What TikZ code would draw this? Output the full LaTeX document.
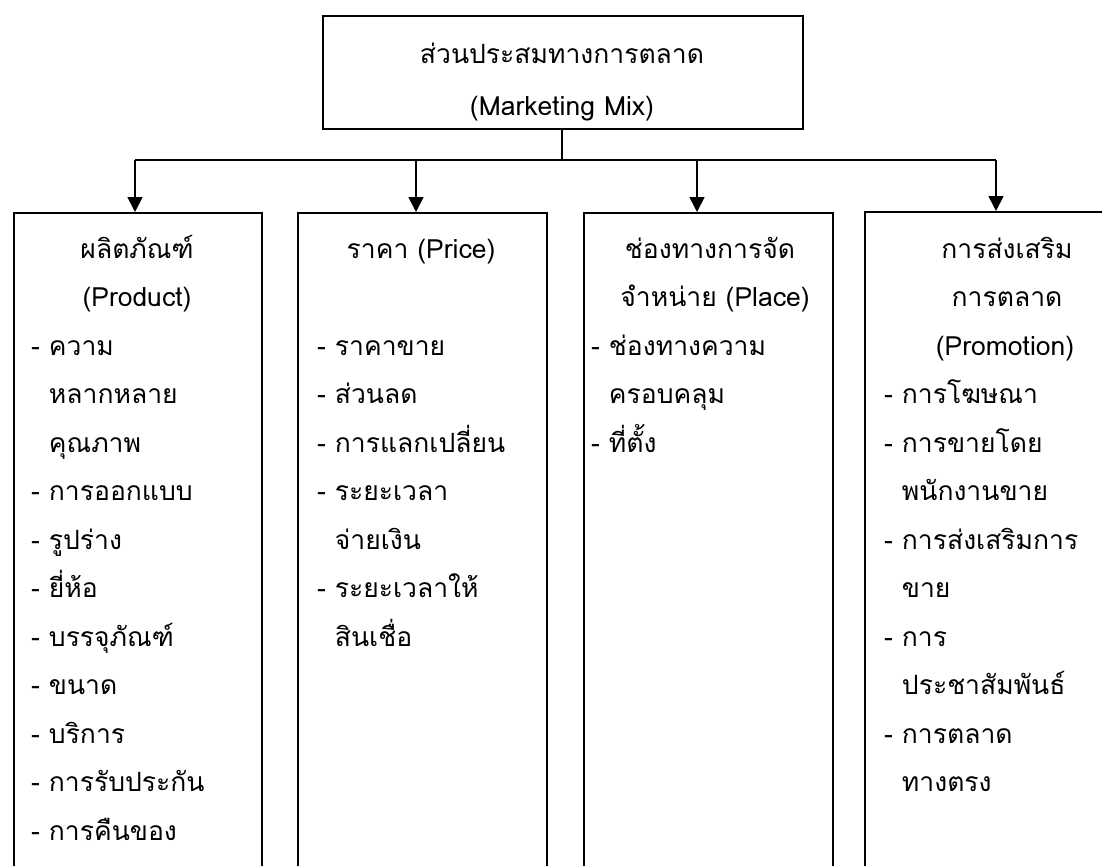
\documentclass[tikz,border=0pt]{standalone}
\usepackage{fontspec}
\setmainfont[Script=Thai]{Loma}
\usetikzlibrary{arrows.meta}
\tikzset{
  frame/.style={draw, line width=1.7pt, inner sep=0pt, anchor=north west},
  conn/.style={line width=1.7pt},
  arr/.style={line width=1.7pt, -{Triangle[width=15pt,length=15pt]}},
  hd/.style={anchor=base, inner sep=0pt, font=\fontsize{26.5}{30}\selectfont},
  it/.style={anchor=base west, inner sep=0pt, font=\fontsize{26.5}{30}\selectfont},
}
\begin{document}
\begin{tikzpicture}[x=1pt,y=-1pt]
\useasboundingbox (0,0) rectangle (1102,865);
\clip (0,0) rectangle (1102,865);
% boxes
\node[frame, minimum width=480pt, minimum height=113pt] (top) at (322,15) {};
\node[frame, minimum width=248pt, minimum height=700pt] (p1) at (13,212) {};
\node[frame, minimum width=249pt, minimum height=700pt] (p2) at (297,212) {};
\node[frame, minimum width=249pt, minimum height=700pt] (p3) at (583,212) {};
\node[frame, minimum width=249pt, minimum height=700pt] (p4) at (864,211) {};
% connectors
\coordinate (bus) at (562,160);
\coordinate (b1) at (135,160);
\coordinate (b2) at (416,160);
\coordinate (b3) at (697,160);
\coordinate (b4) at (996,160);
\draw[conn] (top.south -| bus) -- (bus);
\draw[conn] (b1) -- (b4);
\draw[arr] (b1) -- (b1 |- p1.north);
\draw[arr] (b2) -- (b2 |- p2.north);
\draw[arr] (b3) -- (b3 |- p3.north);
\draw[arr] (b4) -- (b4 |- p4.north);
% top text
\node[hd] (t0) at (562,63) {ส่วนประสมทางการตลาด};
\node[hd] (t1) at (562,115) {(Marketing Mix)};
% box 1
\node[hd] (a0) at (137,258) {ผลิตภัณฑ์};
\node[hd] (a1) at (137,306.5) {(Product)};
\node[it] (a2) at (31,355) {- ความ};
\node[it] (a3) at (31,403.5) {\phantom{- }หลากหลาย};
\node[it] (a4) at (31,452) {\phantom{- }คุณภาพ};
\node[it] (a5) at (31,500.5) {- การออกแบบ};
\node[it] (a6) at (31,549) {- รูปร่าง};
\node[it] (a7) at (31,597.5) {- ยี่ห้อ};
\node[it] (a8) at (31,646) {- บรรจุภัณฑ์};
\node[it] (a9) at (31,694.5) {- ขนาด};
\node[it] (a10) at (31,743) {- บริการ};
\node[it] (a11) at (31,791.5) {- การรับประกัน};
\node[it] (a12) at (31,840) {- การคืนของ};
% box 2
\node[hd] (c0) at (421,258) {ราคา (Price)};
\node[it] (c2) at (317,355) {- ราคาขาย};
\node[it] (c3) at (317,403.5) {- ส่วนลด};
\node[it] (c4) at (317,452) {- การแลกเปลี่ยน};
\node[it] (c5) at (317,500.5) {- ระยะเวลา};
\node[it] (c6) at (317,549) {\phantom{- }จ่ายเงิน};
\node[it] (c7) at (317,597.5) {- ระยะเวลาให้};
\node[it] (c8) at (317,646) {\phantom{- }สินเชื่อ};
% box 3
\node[hd] (d0) at (710,258) {ช่องทางการจัด};
\node[hd] (d1) at (715,306.5) {จำหน่าย (Place)};
\node[it] (d2) at (591,355) {- ช่องทางความ};
\node[it] (d3) at (591,403.5) {\phantom{- }ครอบคลุม};
\node[it] (d4) at (591,452) {- ที่ตั้ง};
% box 4
\node[hd] (e0) at (1007,258) {การส่งเสริม};
\node[hd] (e1) at (1007,306.5) {การตลาด};
\node[hd] (e2) at (1005,355) {(Promotion)};
\node[it] (e3) at (884,403.5) {- การโฆษณา};
\node[it] (e4) at (884,452) {- การขายโดย};
\node[it] (e5) at (884,500.5) {\phantom{- }พนักงานขาย};
\node[it] (e6) at (884,549) {- การส่งเสริมการ};
\node[it] (e7) at (884,597.5) {\phantom{- }ขาย};
\node[it] (e8) at (884,646) {- การ};
\node[it] (e9) at (884,694.5) {\phantom{- }ประชาสัมพันธ์};
\node[it] (e10) at (884,743) {- การตลาด};
\node[it] (e11) at (884,791.5) {\phantom{- }ทางตรง};
\end{tikzpicture}
\end{document}
